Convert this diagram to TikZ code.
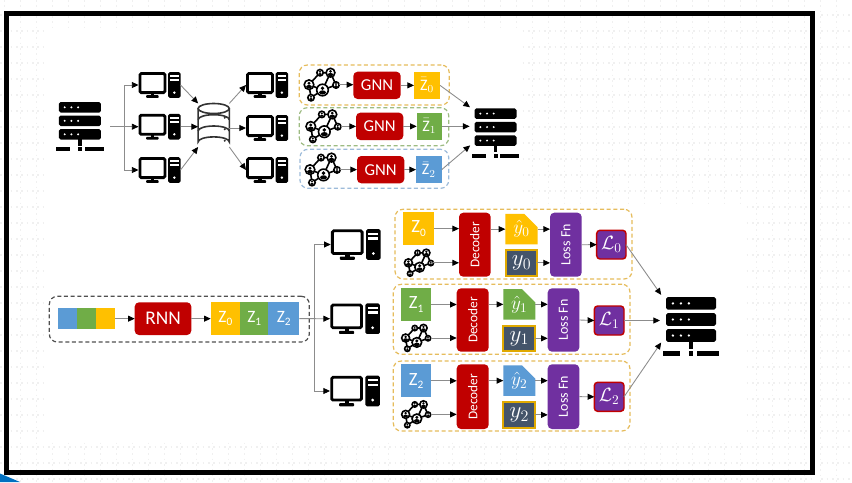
\documentclass[tikz,border=0pt]{standalone}
\usepackage{fontspec}
\usepackage{graphicx}
\setmainfont{Carlito}
\usetikzlibrary{arrows.meta,shapes.misc}
\definecolor{cgold}{HTML}{FFC000}
\definecolor{cgreen}{HTML}{70AD47}
\definecolor{cblue}{HTML}{5B9BD5}
\definecolor{cred}{HTML}{C00000}
\definecolor{cpurple}{HTML}{7030A0}
\definecolor{cslate}{HTML}{44546A}
\definecolor{ctri}{HTML}{0070C0}
\definecolor{dashgold}{HTML}{E6BC5C}
\definecolor{dashgreen}{HTML}{9DBB82}
\definecolor{dashblue}{HTML}{9DBBDA}
\definecolor{dashdark}{HTML}{505050}
\definecolor{linegray}{HTML}{8C8C8C}
\newcommand{\blk}[7]{% style, name, x0, y0, x1, y1, text
  \pgfmathsetmacro{\cxx}{(#3+#5)/2}\pgfmathsetmacro{\cyy}{(#4+#6)/2}
  \node[#1,minimum width={(#5-#3)*0.75pt},minimum height={(#6-#4)*0.75pt}] (#2) at (\cxx,\cyy) {#7};}
\newcommand{\Zs}[1]{Z\raisebox{-.4ex}{\fontsize{8.5}{9}\selectfont #1}}
\tikzset{
  basebox/.style={inner sep=0pt,outer sep=0pt,text=white,align=center},
  flat/.style={basebox,fill=#1},
  rbox/.style={basebox,fill=#1,rounded corners=3.2pt},
  lossbox/.style={basebox,fill=cpurple,draw=cred,line width=1.1pt,rounded corners=2.5pt},
  truthbox/.style={basebox,fill=cslate,draw=cgold!88!black,line width=1.4pt},
  predbox/.style={basebox,fill=#1,chamfered rectangle,chamfered rectangle corners=north east,chamfered rectangle sep=5pt},
  dashbox/.style={draw=#1,line width=.9pt,dash pattern=on 3pt off 2pt,rounded corners=6pt,inner sep=0pt},
  icon/.style={inner sep=0pt,outer sep=0pt},
  conn/.style={draw=linegray,line width=.65pt,-{Triangle[black,length=5pt,width=4.5pt]}},
  dotline/.style={draw=black!6,line width=1.1pt,dash pattern=on 1.3pt off 2.7pt},
  computer/.pic={
    \draw[black,line width=2.1pt,rounded corners=1pt,fill=white] (-19.6,-11.5) rectangle (5.4,7.6);
    \fill[black] (-8.8,8) rectangle (-5.2,11);
    \fill[black,rounded corners=.6pt] (-13.4,10.2) rectangle (-.8,12.85);
    \fill[black,rounded corners=1.2pt] (8.7,-12.85) rectangle (21,12.85);
    \fill[white] (10.6,-10) rectangle (19.1,-8);
    \fill[white] (10.6,-6.2) rectangle (19.1,-4.2);
    \fill[white] (14.85,7.6) circle (1.3);
  },
  serverpic/.pic={
    \foreach \t in {-24.7,-11.2,2.3}{
      \fill[black,rounded corners=1.3pt] (-21,\t) rectangle (21,{\t+10.6});
      \fill[white] (-15.2,{\t+5.3}) circle (1.1);
      \fill[white] (-8.5,{\t+5.3}) circle (1.1);
      \fill[white] (-1.8,{\t+5.3}) circle (1.1);
    }
    \fill[black] (-1.9,12) rectangle (1.9,19);
    \fill[black] (-23.8,20.6) rectangle (-9.5,24.6);
    \fill[black] (-2,20.6) rectangle (2,24.6);
    \fill[black] (4.8,20.6) rectangle (23.8,24.6);
  },
  dbpic/.pic={
    \begin{scope}[draw=black!80,line width=1.2pt]
      \draw (-15.6,-16.7) -- (-15.6,16.7) arc[start angle=180,end angle=360,x radius=15.6,y radius=5] -- (15.6,-16.7);
      \draw (0,-16.7) ellipse (15.6 and 5);
      \draw (-15.6,-5.5) arc[start angle=180,end angle=360,x radius=15.6,y radius=5];
      \draw (-15.6,5.8) arc[start angle=180,end angle=360,x radius=15.6,y radius=5];
    \end{scope}
    \fill[black!80] (11,-7.5) circle (1.1);
    \fill[black!80] (11,4) circle (1.1);
    \fill[black!80] (11,15.5) circle (1.1);
  },
  graphpic/.pic={
    \draw[black,line width=1.2pt]
      (-12.5,0) -- (-1.5,-12) -- (9,-12) -- (14.5,.3) -- (1,5.3) -- (-12.5,0) -- (-10.5,13) -- (1,5.3) -- (9,-12);
    \foreach \x/\y/\r in {-12.5/0/4.8,-1.5/-12/3.2,9/-12/4.4,14.5/.3/3.2,1/5.3/5.8,-10.5/13/3.2}{
      \draw[black,fill=white,line width=1.2pt] (\x,\y) circle (\r);
      \fill[black] (\x,{\y-.3*\r}) circle ({.34*\r});
      \fill[black] (\x,{\y+.42*\r}) ellipse ({.6*\r} and {.36*\r});
    }
  },
}
\begin{document}
\begin{tikzpicture}[x=0.75pt,y=-0.75pt]
\useasboundingbox (0,0) rectangle (852,482);
% faint page grid
\foreach \k in {0,...,52}{\draw[dotline] ({4.7+16*\k},0) -- ({4.7+16*\k},482);}
\foreach \k in {-1,0,...,29}{\draw[dotline] (0,{15+16*\k}) -- (852,{15+16*\k});}
\fill[white] (46,28) rectangle (519,205);
\fill[white] (46,205) rectangle (743,441);
\fill[white] (813,0) rectangle (820,482);
\fill[white] (808,16) rectangle (815,470);
% frame
\draw[black,line width=3.75pt] (6.5,13.5) rectangle (812.5,472.5);
\fill[ctri] (0,473.5) -- (20,482) -- (0,482) -- cycle;

% --- top row ---
\node[icon,minimum width=35.8pt,minimum height=36.8pt] (s1) at (79.9,126.7) {};
\pic at (s1) {serverpic};
\node[icon,minimum width=31.5pt,minimum height=19.3pt] (c1) at (159.5,85) {};
\node[icon,minimum width=31.5pt,minimum height=19.3pt] (c2) at (159.5,126.7) {};
\node[icon,minimum width=31.5pt,minimum height=19.3pt] (c3) at (159.5,170) {};
\node[icon,minimum width=31.5pt,minimum height=19.3pt] (c4) at (267,85) {};
\node[icon,minimum width=31.5pt,minimum height=19.3pt] (c5) at (267,128) {};
\node[icon,minimum width=31.5pt,minimum height=19.3pt] (c6) at (267,170) {};
\foreach \c in {c1,c2,c3,c4,c5,c6}{\pic at (\c) {computer};}
\node[icon,minimum width=23.4pt,minimum height=32.7pt] (db) at (213.7,125.2) {};
\pic at (db) {dbpic};
\coordinate (j1) at (124,126.7);
\draw[conn,shorten <=5pt] (s1.east) -- (c2.west);
\draw[conn] (j1) |- (c1.west);
\draw[conn] (j1) |- (c3.west);
\draw[conn] (c1.east) -- (db.north west);
\draw[conn] (c2.east) -- (db.west |- c2.east);
\draw[conn] (c3.east) -- (db.south west);
\draw[conn] (db.north east) -- (c4.west);
\draw[conn] (db.east |- c5.west) -- (c5.west);
\draw[conn] (db.south east) -- (c6.west);

\blk{dashbox=dashgold}{b0}{299.3}{65}{449.3}{105}{}
\blk{dashbox=dashgreen}{b1}{299.3}{107.7}{448.7}{145.7}{}
\blk{dashbox=dashblue}{b2}{300}{149.3}{448.7}{188.3}{}
\node[icon,minimum width=26pt,minimum height=24pt] (g0) at (321.5,84.7) {};
\node[icon,minimum width=26pt,minimum height=24pt] (g1) at (323.3,126.4) {};
\node[icon,minimum width=26pt,minimum height=24pt] (g2) at (322.5,169.6) {};
\foreach \g in {g0,g1,g2}{\pic at (\g) {graphpic};}
\blk{rbox=cred,font=\fontsize{12.5}{14}\selectfont}{gnn0}{353.3}{71.7}{400.7}{99}{GNN}
\blk{rbox=cred,font=\fontsize{12.5}{14}\selectfont}{gnn1}{356}{112.7}{403.3}{140}{GNN}
\blk{rbox=cred,font=\fontsize{12.5}{14}\selectfont}{gnn2}{357}{156}{404.3}{183.3}{GNN}
\blk{flat=cgold}{zb0}{414}{71.7}{440}{99}{\large$\bar{\mathrm{Z}}_0$}
\blk{flat=cgreen}{zb1}{416.7}{112.7}{442}{140}{\large$\bar{\mathrm{Z}}_1$}
\blk{flat=cblue}{zb2}{416}{156}{441.7}{183.3}{\large$\bar{\mathrm{Z}}_2$}
\draw[conn] (g0.east) -- (gnn0.west |- g0.east);
\draw[conn] (g1.east) -- (gnn1.west |- g1.east);
\draw[conn] (g2.east) -- (gnn2.west |- g2.east);
\draw[conn] (gnn0.east) -- (zb0.west);
\draw[conn] (gnn1.east) -- (zb1.west);
\draw[conn] (gnn2.east) -- (zb2.west);
\node[icon,minimum width=35.8pt,minimum height=36.8pt] (s2) at (495.5,133) {};
\pic at (s2) {serverpic};
\draw[conn,shorten >=1.5pt] (zb0.east) -- (s2.north west);
\draw[conn,shorten >=1.5pt] (zb1.east) -- (s2.west |- zb1.east);
\draw[conn,shorten >=1.5pt] (zb2.east) -- (s2.205);

% --- bottom left ---
\blk{dashbox=dashdark}{b3}{49.3}{296.3}{309.3}{342}{}
\blk{flat=cblue}{sa}{57.7}{308.3}{76.9}{329}{}
\blk{flat=cgreen}{sb}{76.7}{308.3}{96.1}{329}{}
\blk{flat=cgold}{sc}{96}{308.3}{115}{329}{}
\blk{rbox=cred,font=\fontsize{14.5}{16}\selectfont}{rnn}{134.7}{302.3}{191.3}{335}{RNN}
\blk{flat=cgold,font=\fontsize{13}{15}\selectfont}{za}{210.7}{302.3}{240.1}{335}{\Zs{0}}
\blk{flat=cgreen,font=\fontsize{13}{15}\selectfont}{zz}{240}{302.3}{268.4}{335}{\Zs{1}}
\blk{flat=cblue,font=\fontsize{13}{15}\selectfont}{zc}{268.3}{302.3}{299.3}{335}{\Zs{2}}
\draw[conn] (sc.east) -- (rnn.west |- sc.east);
\draw[conn] (rnn.east) -- (za.west);
\node[icon,minimum width=37.5pt,minimum height=23pt] (ct) at (355.7,244.5) {};
\node[icon,minimum width=37.5pt,minimum height=23pt] (cm) at (355,318.7) {};
\node[icon,minimum width=37.5pt,minimum height=23pt] (cb) at (355,391) {};
\foreach \c in {ct,cm,cb}{\pic[scale=1.19] at (\c) {computer};}
\coordinate (j2) at (314,318.7);
\draw[conn] (zc.east) -- (cm.west);
\draw[conn] (j2) |- (ct.west);
\draw[conn] (j2) |- (cb.west);

% --- bottom right blocks ---
\blk{dashbox=dashgold}{r0}{395}{209.3}{632}{279}{}
\blk{dashbox=dashgold}{r1}{393.3}{284.3}{630}{354.3}{}
\blk{dashbox=dashgold}{r2}{393.3}{361}{630}{431}{}

\blk{flat=cgold,font=\fontsize{14}{16}\selectfont}{zq0}{403.3}{212.3}{434}{245}{\Zs{0}}
\blk{flat=cgreen,font=\fontsize{14}{16}\selectfont}{zq1}{401}{288.3}{431.3}{320.7}{\Zs{1}}
\blk{flat=cblue,font=\fontsize{14}{16}\selectfont}{zq2}{401}{364.3}{431.3}{397.3}{\Zs{2}}
\node[icon,minimum width=21.8pt,minimum height=19.3pt] (gq0) at (418.8,262.8) {};
\node[icon,minimum width=21.8pt,minimum height=19.3pt] (gq1) at (416,338) {};
\node[icon,minimum width=21.8pt,minimum height=19.3pt] (gq2) at (416,414.4) {};
\foreach \g in {gq0,gq1,gq2}{\pic[scale=.83] at (\g) {graphpic};}
\blk{rbox=cred}{d0}{459}{212.7}{490.7}{276.7}{\rotatebox{90}{\fontsize{10}{12}\selectfont Decoder}}
\blk{rbox=cred}{d1}{456.7}{288.3}{488.7}{351.7}{\rotatebox{90}{\fontsize{10}{12}\selectfont Decoder}}
\blk{rbox=cred}{d2}{456.7}{364.3}{488.7}{429}{\rotatebox{90}{\fontsize{10}{12}\selectfont Decoder}}
\blk{predbox=cgold,font=\Large}{h0}{505.3}{216}{537.7}{242.3}{$\hat{y}_0$}
\blk{predbox=cgreen,font=\Large}{h1}{503.3}{291}{535.3}{317.7}{$\hat{y}_1$}
\blk{predbox=cblue,font=\Large}{h2}{503.3}{367.3}{535.3}{394}{$\hat{y}_2$}
\blk{truthbox,font=\LARGE}{t0}{505.7}{250}{537.3}{275.7}{$y_0$}
\blk{truthbox,font=\LARGE}{t1}{503.3}{325.7}{535.3}{351}{$y_1$}
\blk{truthbox,font=\LARGE}{t2}{503.3}{402}{535.3}{427.7}{$y_2$}
\blk{rbox=cpurple}{f0}{550}{212.7}{581.7}{276.7}{\rotatebox{90}{\fontsize{10.5}{12}\selectfont Loss Fn}}
\blk{rbox=cpurple}{f1}{547.7}{288.3}{579.3}{351.7}{\rotatebox{90}{\fontsize{10.5}{12}\selectfont Loss Fn}}
\blk{rbox=cpurple}{f2}{547.7}{364.3}{579.3}{429}{\rotatebox{90}{\fontsize{10.5}{12}\selectfont Loss Fn}}
\blk{lossbox,font=\Large}{l0}{596.7}{230.3}{626}{259}{$\mathcal{L}_0$}
\blk{lossbox,font=\Large}{l1}{594.3}{306}{624}{335}{$\mathcal{L}_1$}
\blk{lossbox,font=\Large}{l2}{594.3}{382.3}{624}{411.3}{$\mathcal{L}_2$}
\foreach \i in {0,1,2}{
  \draw[conn] (zq\i.east) -- (d\i.west |- zq\i.east);
  \draw[conn] (gq\i.east) -- (d\i.west |- gq\i.east);
  \draw[conn] (d\i.east |- h\i.west) -- (h\i.west);
  \draw[conn] (h\i.east) -- (f\i.west |- h\i.east);
  \draw[conn] (t\i.east) -- (f\i.west |- t\i.east);
  \draw[conn] (f\i.east) -- (l\i.west);
}
\node[icon,minimum width=42.5pt,minimum height=44.2pt] (s3) at (691,326.5) {};
\pic[scale=1.19] at (s3) {serverpic};
\draw[conn,shorten >=2pt] (l0.east) -- (s3.north west);
\draw[conn,shorten >=2pt] (l1.east) -- (s3.west |- l1.east);
\draw[conn,shorten >=2pt] (l2.east) -- (s3.206);
\end{tikzpicture}
\end{document}
